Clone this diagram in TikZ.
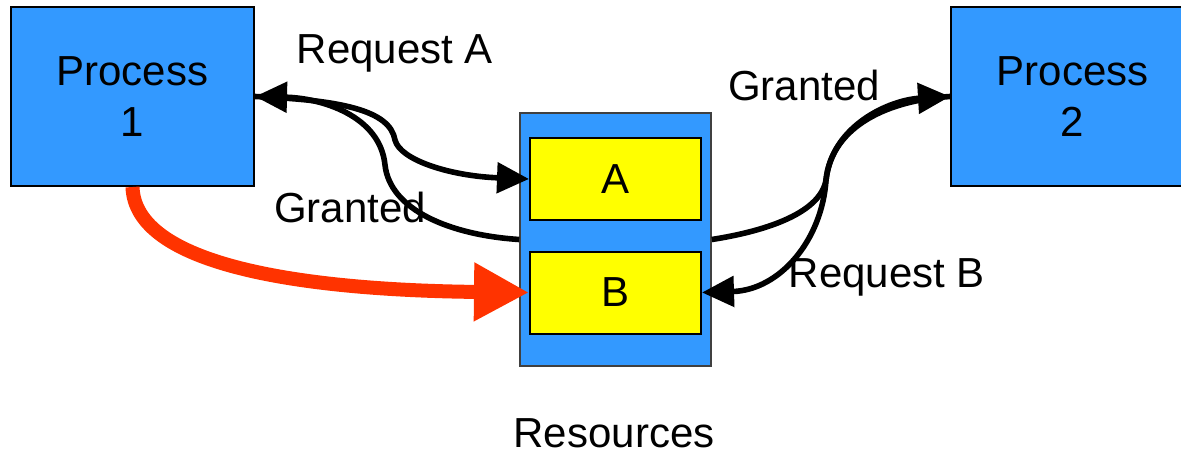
\documentclass[tikz,border=0pt]{standalone}
\usepackage{fontspec}
\setmainfont{Liberation Sans}
\usetikzlibrary{arrows.meta}
\definecolor{procblue}{HTML}{3399FF}
\definecolor{resyellow}{HTML}{FFFF00}
\definecolor{holdred}{HTML}{FF3300}
\tikzset{
  every node/.style={font=\fontsize{21pt}{25.5pt}\selectfont},
  process/.style={draw=black, line width=1pt, fill=procblue, inner sep=0pt,
    minimum width=121.5pt, minimum height=89.5pt, align=center},
  resbox/.style={draw=black!75, line width=0.8pt, fill=procblue, inner sep=0pt,
    minimum width=95.5pt, minimum height=126.5pt},
  slot/.style={draw=black, line width=1pt, fill=resyellow, inner sep=0pt,
    minimum width=85.5pt, minimum height=41pt},
  txt/.style={anchor=base, inner sep=0pt},
  link/.style={line width=2.8pt, -{Triangle[length=16pt,width=15pt]}},
  hold/.style={line width=7pt, draw=holdred, -{Triangle[length=27.5pt,width=27.5pt]}}
}
\begin{document}
\begin{tikzpicture}[x=0.5pt, y=-0.5pt]
  \useasboundingbox (0,0) rectangle (1181,455);
  \clip (0,0) rectangle (1181,455);

  % processes
  \node[process] (p1) at (132.5,96.5) {Process\\1};
  \node[process] (p2) at (1072.5,96.5) {Process\\2};

  % resource pool with its two resources
  \node[resbox] (res) at (615.5,239.5) {};
  \node[slot] (a) at (615.5,179) {A};
  \node[slot] (b) at (615.5,292.5) {B};
  \node[txt] (reslbl) at (614,447) {Resources};

  % labels on the connectors
  \node[txt] (reqa) at (395,63) {Request A};
  \node[txt] (granl) at (350,222) {Granted};
  \node[txt] (granr) at (804,100) {Granted};
  \node[txt] (reqb) at (887,287) {Request B};

  % Process 1 asks for A, A is granted
  \draw[link] (p1.east) .. controls (340,100) and (390,110) .. (395,140)
                        .. controls (400,160) and (450,176) .. (a.west);
  \draw[link] (res.west) .. controls (450,235) and (390,210) .. (385,165)
                         .. controls (380,115) and (320,98) .. (p1.east);

  % Process 2 asks for B, B is granted
  \draw[link] (res.east) .. controls (760,232) and (820,215) .. (826,180)
                         .. controls (832,125) and (890,100) .. (p2.west);
  \draw[link] (p2.west) .. controls (890,100) and (832,125) .. (826,180)
                        .. controls (822,240) and (780,290) .. (b.east);

  % Process 1 waits for B
  \draw[hold] (p1.south) .. controls (135,265) and (300,290) .. (b.west);
\end{tikzpicture}
\end{document}
